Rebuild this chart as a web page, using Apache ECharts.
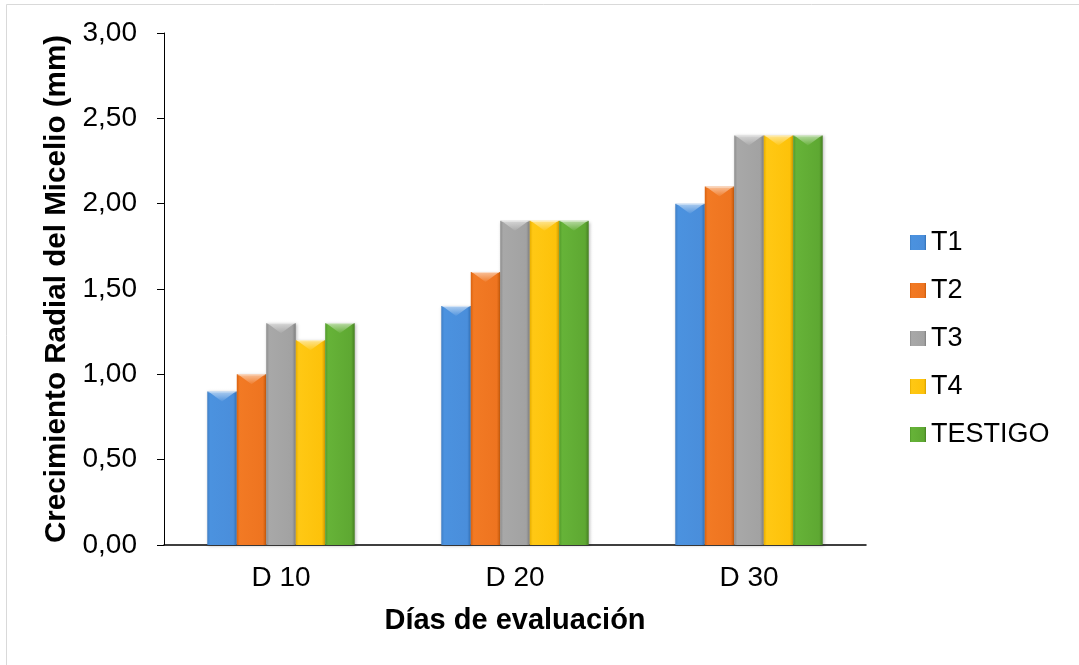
<!DOCTYPE html>
<html>
<head>
<meta charset="utf-8">
<script src="https://cdn.jsdelivr.net/npm/echarts@6/dist/echarts.min.js"></script>
<style>
html,body{margin:0;padding:0;background:#fff;}
#c{width:1079px;height:665px;}
</style>
</head>
<body>
<div id="c"></div>
<script>
var categories = ['D 10', 'D 20', 'D 30'];
var seriesNames = ['T1', 'T2', 'T3', 'T4', 'TESTIGO'];
var T1 = [0.9, 1.4, 2.0];
var T2 = [1.0, 1.6, 2.1];
var T3 = [1.3, 1.9, 2.4];
var T4 = [1.2, 1.9, 2.4];
var TESTIGO = [1.3, 1.9, 2.4];
var seriesValues = [T1, T2, T3, T4, TESTIGO];

var palettes = [
  ['#3f7fc6', '#4b92df', '#4a8edb', '#3270b4'],
  ['#d9620f', '#f27a24', '#ee7420', '#c85a0a'],
  ['#8c8c8c', '#a8a8a8', '#a2a2a2', '#7e7e7e'],
  ['#e6ad00', '#ffc814', '#fdc20a', '#d49f00'],
  ['#519a2a', '#66b338', '#5ea832', '#467f22']
];
function grad(p) {
  return new echarts.graphic.LinearGradient(0, 0, 1, 0, [
    {offset: 0, color: p[0]},
    {offset: 0.1, color: p[1]},
    {offset: 0.88, color: p[2]},
    {offset: 1, color: p[3]}
  ]);
}
var CAT_GAP = 0.37;

var chart = echarts.init(document.getElementById('c'));
var font = '"Liberation Sans", Arial, sans-serif';
var series = seriesNames.map(function (name, i) {
  return {
    name: name,
    type: 'bar',
    data: seriesValues[i],
    barGap: '0%',
    barCategoryGap: (CAT_GAP * 100) + '%',
    itemStyle: {
      color: grad(palettes[i]),
      shadowColor: 'rgba(0,0,0,0.25)',
      shadowBlur: 3,
      shadowOffsetX: 1,
      shadowOffsetY: 1
    }
  };
});

// bevel highlight on top of each bar, positioned through the axis scales
var bevelData = [];
seriesValues.forEach(function (arr, i) {
  arr.forEach(function (v, j) { bevelData.push([j, v, i]); });
});
series.push({
  name: 'bevel',
  type: 'custom',
  silent: true,
  z: 5,
  data: bevelData,
  renderItem: function (params, api) {
    var c = api.coord([api.value(0), api.value(1)]);
    var band = api.size([1, 0])[0];
    var groupW = band * (1 - CAT_GAP);
    var bw = groupW / seriesNames.length;
    var x0 = c[0] - groupW / 2 + api.value(2) * bw;
    var y = c[1];
    var h = 10;
    return {
      type: 'group',
      children: [{
        type: 'polygon',
        shape: {points: [[x0 + 1, y], [x0 + bw - 1, y], [x0 + bw / 2, y + h]]},
        style: {
          fill: new echarts.graphic.LinearGradient(0, 0, 0, 1, [
            {offset: 0, color: 'rgba(255,255,255,0.55)'},
            {offset: 1, color: 'rgba(255,255,255,0.05)'}
          ])
        }
      }, {
        type: 'line',
        shape: {x1: x0 + 1, y1: y + 0.5, x2: x0 + bw - 1, y2: y + 0.5},
        style: {stroke: 'rgba(255,255,255,0.5)', lineWidth: 1}
      }]
    };
  }
});

chart.setOption({
  backgroundColor: '#fff',
  animation: false,
  textStyle: {fontFamily: font},
  graphic: [{
    type: 'rect',
    shape: {x: 6.5, y: 4.5, width: 1200, height: 800},
    style: {fill: 'none', stroke: '#d9d9d9', lineWidth: 1},
    silent: true,
    z: -10
  }],
  grid: {left: 164, top: 33, width: 702, height: 512, containLabel: false},
  legend: {
    orient: 'vertical',
    left: 905,
    top: 224,
    itemWidth: 16,
    itemHeight: 15,
    itemGap: 21,
    icon: 'rect',
    textStyle: {fontSize: 27, color: '#000', fontFamily: font, padding: [0, 0, 0, 0]},
    data: seriesNames
  },
  xAxis: {
    type: 'category',
    data: categories,
    name: 'Días de evaluación',
    nameLocation: 'middle',
    nameGap: 61,
    nameTextStyle: {fontSize: 29, fontWeight: 'bold', color: '#000', fontFamily: font},
    axisLine: {lineStyle: {color: '#000', width: 1.5}},
    axisTick: {show: false},
    axisLabel: {fontSize: 28, color: '#000', margin: 19, fontFamily: font}
  },
  yAxis: {
    type: 'value',
    min: 0,
    max: 3,
    interval: 0.5,
    name: 'Crecimiento Radial del Micelio (mm)',
    nameLocation: 'middle',
    nameGap: 92,
    nameTextStyle: {fontSize: 29.6, fontWeight: 'bold', color: '#000', fontFamily: font},
    axisLine: {show: true, lineStyle: {color: '#000', width: 1}},
    axisTick: {show: true, length: 7, lineStyle: {color: '#000'}},
    splitLine: {show: false},
    axisLabel: {
      fontSize: 28, color: '#000', margin: 27, fontFamily: font,
      formatter: function (v) {
        return v.toFixed(2).replace('.', ',');
      }
    }
  },
  series: series
});
</script>
</body>
</html>
